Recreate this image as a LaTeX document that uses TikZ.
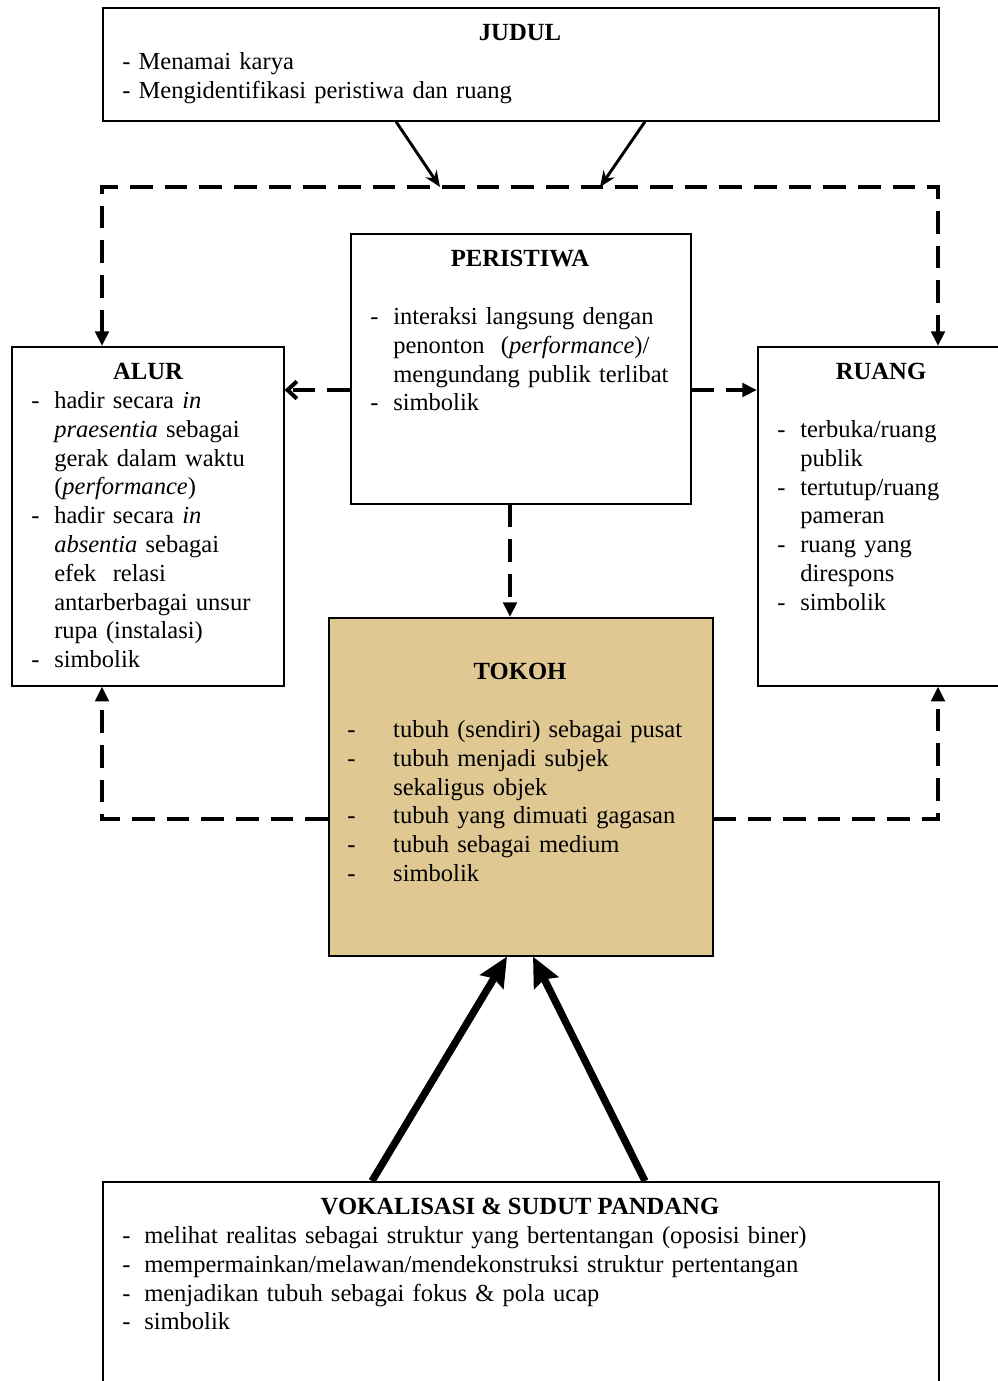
\documentclass[tikz,border=0pt]{standalone}
\usepackage{fontspec}
\setmainfont{Liberation Serif}
\usetikzlibrary{arrows.meta}
\definecolor{papyrus}{RGB}{223,200,146}
\newcommand{\dsh}[1][17.25pt]{\makebox[#1][l]{-}}
\newcommand{\ind}[1][17.25pt]{\hspace*{#1}}
\tikzset{
     boxNode/.style =
        { draw
        , line width=1.2pt
        , inner sep=0pt
        , anchor=north west
        }
   , titleNode/.style =
        { font=\fontsize{18.5pt}{21.6pt}\selectfont\bfseries
        , anchor=base
        , inner sep=0pt
        }
   , listNode/.style =
        { font=\fontsize{18.4pt}{21.6pt}\selectfont
        , align=left
        , text width=#1
        , anchor=base west
        , inner sep=0pt
        }
   , listNode/.default=300pt
   , dashLine/.style =
        { line width=3pt
        , dash pattern=on 17pt off 9pt
        }
   , thinArrow/.style =
        { line width=2.2pt
        , -{Stealth[length=12pt,width=10pt]}
        }
   , bigArrow/.style =
        { line width=5.5pt
        , -{Stealth[length=22pt,width=20pt,inset=3pt]}
        }
}

\begin{document}
\begin{tikzpicture}
    [ x=0.75pt
    , y=-0.75pt
    , >={Triangle[length=11pt,width=10pt]}
    ]
    \clip (0,0) rectangle (998,1381);

    % boxes
    \node[boxNode, minimum width=627pt, minimum height=84.75pt] (judul) at (102,7) {};
    \node[boxNode, minimum width=255pt, minimum height=202.5pt] (peristiwa) at (350,233) {};
    \node[boxNode, minimum width=204pt, minimum height=254.25pt] (alur) at (11,346) {};
    \node[boxNode, minimum width=200pt, minimum height=254.25pt] (ruang) at (757,346) {};
    \node[boxNode, fill=papyrus, minimum width=288pt, minimum height=253.5pt] (tokoh) at (328,617) {};
    \node[boxNode, minimum width=627pt, minimum height=170pt] (vokal) at (102,1181) {};

    % texts
    \node[titleNode] (tJudul) at (520,40) {JUDUL};
    \node[listNode=600pt] (lJudul) at (122,69.5)
        {- Menamai karya\\- Mengidentifikasi peristiwa dan ruang};

    \node[titleNode] (tPeristiwa) at (520,266) {PERISTIWA};
    \node[listNode] (lPeristiwa) at (370,324.5)
        {\dsh interaksi langsung dengan\\
         \ind penonton \ (\emph{performance})/\\
         \ind mengundang publik terlibat\\
         \dsh simbolik};

    \node[titleNode] (tAlur) at (148,379) {ALUR};
    \node[listNode] (lAlur) at (31,408.5)
        {\dsh hadir secara \emph{in}\\
         \ind \emph{praesentia} sebagai\\
         \ind gerak dalam waktu\\
         \ind (\emph{performance})\\
         \dsh hadir secara \emph{in}\\
         \ind \emph{absentia} sebagai\\
         \ind efek \ relasi\\
         \ind antarberbagai unsur\\
         \ind rupa (instalasi)\\
         \dsh simbolik};

    \node[titleNode] (tRuang) at (881,379) {RUANG};
    \node[listNode] (lRuang) at (777,437.5)
        {\dsh terbuka/ruang\\
         \ind publik\\
         \dsh tertutup/ruang\\
         \ind pameran\\
         \dsh ruang yang\\
         \ind direspons\\
         \dsh simbolik};

    \node[titleNode] (tTokoh) at (520,679) {TOKOH};
    \node[listNode] (lTokoh) at (347,737.5)
        {\dsh[34.5pt]tubuh (sendiri) sebagai pusat\\
         \dsh[34.5pt]tubuh menjadi subjek\\
         \ind[34.5pt]sekaligus objek\\
         \dsh[34.5pt]tubuh yang dimuati gagasan\\
         \dsh[34.5pt]tubuh sebagai medium\\
         \dsh[34.5pt]simbolik};

    \node[titleNode] (tVokal) at (520,1214) {VOKALISASI \& SUDUT PANDANG};
    \node[listNode=600pt] (lVokal) at (122,1243.5)
        {\dsh[16.5pt]melihat realitas sebagai struktur yang bertentangan (oposisi biner)\\
         \dsh[16.5pt]mempermainkan/melawan/mendekonstruksi struktur pertentangan\\
         \dsh[16.5pt]menjadikan tubuh sebagai fokus \& pola ucap\\
         \dsh[16.5pt]simbolik};

    % dashed frame
    \coordinate (tl) at (102,187);
    \coordinate (tr) at (938,187);
    \coordinate (bl) at (102,819);
    \coordinate (br) at (938,819);
    \coordinate (pa) at (0,390);
    \coordinate (pd) at (510,0);

    \draw[dashLine, <->] (alur.north -| tl) -- (tl) -- (tr) -- (ruang.north -| tr);
    \draw[dashLine, ->] (tokoh.west |- bl) -- (bl) -- (alur.south -| bl);
    \draw[dashLine, ->] (tokoh.east |- br) -- (br) -- (ruang.south -| br);
    \draw[dashLine, -{Straight Barb[length=7pt,width=13pt]}] (peristiwa.west |- pa) -- (alur.east |- pa);
    \draw[dashLine, ->] (peristiwa.east |- pa) -- (ruang.west |- pa);
    \draw[dashLine, ->] (peristiwa.south -| pd) -- (tokoh.north -| pd);

    % solid arrows
    \draw[thinArrow] (judul.south -| 396,0) -- (440,187);
    \draw[thinArrow] (judul.south -| 645,0) -- (600,187);
    \draw[bigArrow] (vokal.north -| 372,0) -- (tokoh.south -| 507,0);
    \draw[bigArrow] (vokal.north -| 645,0) -- (tokoh.south -| 533,0);
\end{tikzpicture}
\end{document}
